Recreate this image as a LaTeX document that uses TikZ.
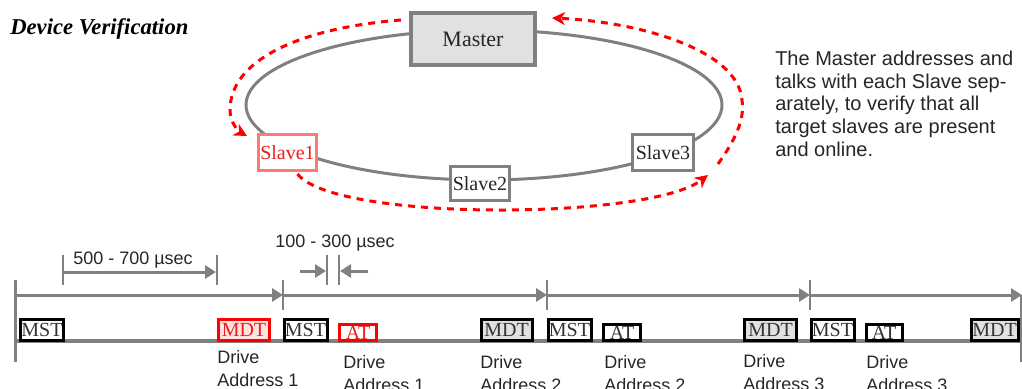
\documentclass[tikz,border=0pt]{standalone}
\usepackage{fontspec}
\setmainfont{Liberation Sans}
\newfontfamily\tnrfont{Liberation Serif}
\usetikzlibrary{arrows.meta,calc}

\definecolor{linegray}{RGB}{128,128,128}
\definecolor{boxgray}{RGB}{224,226,224}
\definecolor{pinkfill}{RGB}{255,226,226}
\definecolor{lightred}{RGB}{255,120,120}
\definecolor{textred}{RGB}{235,30,30}

\newdimen\pxu
\pxu=0.75pt

\begin{document}
\begin{tikzpicture}[x=0.75pt,y=-0.75pt,
  ring/.style={draw=linegray,line width=3\pxu},
  masterbox/.style={draw=linegray,line width=4\pxu,fill=boxgray,inner sep=0pt,
    font=\tnrfont\fontsize{16.5}{18}\selectfont,text=black!85},
  slavebox/.style={draw=linegray,line width=3\pxu,fill=white,inner sep=0pt,
    minimum height=36\pxu,font=\tnrfont\fontsize{15}{17}\selectfont,text=black!85},
  redarc/.style={draw=red,line width=3\pxu,dash pattern=on 7\pxu off 6\pxu,
    -{Stealth[length=9.75pt,width=9.75pt,inset=3pt]}},
  tlarrow/.style={draw=linegray,line width=3\pxu,-{Triangle[length=8.25pt,width=9.75pt]}},
  tlline/.style={draw=linegray,line width=3\pxu},
  baseline/.style={draw=linegray,line width=4\pxu},
  tick/.style={draw=linegray,line width=2\pxu},
  dimtick/.style={draw=linegray,line width=2.5\pxu},
  tlbox/.style={draw=black,line width=3\pxu,fill=white,inner sep=0pt,
    minimum height=21\pxu,font=\tnrfont\fontsize{15}{16}\selectfont,text=black!80},
  redbox/.style={draw=red,text=textred},
  graybox/.style={fill=boxgray},
  shortbox/.style={minimum height=16\pxu},
  timelabel/.style={anchor=base west,inner sep=0pt,font=\fontsize{13.5}{17.25}\selectfont,text=black!85},
  addrlabel/.style={anchor=north west,inner sep=0pt,align=left,
    font=\fontsize{13.5}{17.25}\selectfont,text=black!85}
]
\useasboundingbox (0,0) rectangle (1022,389);
\clip (0,0) rectangle (1022,389);

% heading
\node[anchor=base west,inner sep=0pt,font=\tnrfont\bfseries\itshape\fontsize{17}{19}\selectfont]
  (title) at (10,35) {Device Verification};

% ring network
\draw[ring] (484,105) ellipse [x radius=178.5pt, y radius=56.25pt];
\node[masterbox,minimum width=124\pxu,minimum height=52\pxu] (master) at (473,39) {Master};
\node[slavebox,minimum width=58\pxu,draw=lightred,text=textred] (slave1) at (287.5,152.5) {Slave1};
\node[slavebox,minimum width=59\pxu,minimum height=34\pxu] (slave2) at (480,183.5) {Slave2};
\node[slavebox,minimum width=61\pxu] (slave3) at (663,152.5) {Slave3};

% polling sequence around the ring
\draw[redarc] ($(master.north west)+(-8,9)$) .. controls (300,28) and (230,60) .. (230,110)
  .. controls (230,122) and (238,131) .. ($(slave1.north west)+(-10,3)$);
\draw[redarc] ($(slave1.south)+(10,2)$) .. controls (335,222) and (650,220) .. ($(slave3.south east)+(13,3)$);
\draw[redarc] ($(slave3.south east)+(23,-8)$) .. controls (735,140) and (745,120) .. (742,100)
  .. controls (738,50) and (640,22) .. ($(master.north east)+(15,7)$);

% description
\node[anchor=north west,inner sep=0pt,align=left,font=\fontsize{15}{17}\selectfont,text=black!85]
  (desc) at (775,50.7) {The Master addresses and\\talks with each Slave sep-\\arately, to verify that all\\target slaves are present\\and online.};

% timeline axes
\coordinate (t0) at (15,295);
\coordinate (t1) at (283,295);
\coordinate (t2) at (547,295);
\coordinate (t3) at (810,295);
\coordinate (t4) at (1022,295);
\coordinate (b0) at (15,341);
\coordinate (b1) at (1022,341);
\coordinate (lv0) at (15,280);
\coordinate (lv1) at (15,362);
\coordinate (rv0) at (1021,295);
\coordinate (rv1) at (1021,362);

\draw[tlline] (lv0) -- (lv1);
\draw[tick] (rv0) -- (rv1);
\draw[baseline] (b0) -- (b1);
\draw[tlarrow] (t0) -- (t1);
\draw[tlarrow] (t1) -- (t2);
\draw[tlarrow] (t2) -- (t3);
\draw[tlarrow] (t3) -- (t4);
\foreach \t in {t1,t2,t3}
  \draw[tick] ($(\t)+(0,-15)$) -- ($(\t)+(0,15)$);

% 500 - 700 usec interval
\coordinate (d1a) at (63,272);
\coordinate (d1b) at (216,272);
\draw[dimtick] (63,255) -- (63,285);
\draw[dimtick] (217,255) -- (217,285);
\draw[tlarrow] (d1a) -- (d1b);
\node[timelabel] (dim1) at (73,264) {500 - 700 µsec};

% 100 - 300 usec gap
\coordinate (d2a) at (300,271);
\coordinate (d2b) at (326,271);
\coordinate (d2c) at (368,271);
\coordinate (d2d) at (340,271);
\draw[dimtick] (327,255) -- (327,285);
\draw[dimtick] (339,255) -- (339,285);
\draw[tlarrow] (d2a) -- (d2b);
\draw[tlarrow] (d2c) -- (d2d);
\node[timelabel] (dim2) at (275,247) {100 - 300 µsec};

% telegrams
\node[tlbox,minimum width=43\pxu] (mst1) at (42,330) {MST};
\node[tlbox,redbox,fill=pinkfill,minimum width=51\pxu] (mdt1) at (244,330) {MDT};
\node[tlbox,minimum width=43\pxu] (mst2) at (305.5,330) {MST};
\node[tlbox,redbox,shortbox,minimum width=37\pxu] (at1) at (358,332.5) {AT};
\node[tlbox,graybox,minimum width=51\pxu] (mdt2) at (506.5,330) {MDT};
\node[tlbox,minimum width=43\pxu] (mst3) at (569.5,330) {MST};
\node[tlbox,shortbox,minimum width=37\pxu] (at2) at (622,332.5) {AT};
\node[tlbox,graybox,minimum width=52\pxu] (mdt3) at (770.5,330) {MDT};
\node[tlbox,minimum width=43\pxu] (mst4) at (832.5,330) {MST};
\node[tlbox,shortbox,minimum width=36\pxu] (at3) at (884,332.5) {AT};
\node[tlbox,graybox,minimum width=47\pxu] (mdt4) at (994.5,330) {MDT};

% addresses
\node[addrlabel] (lab1) at (217,350) {Drive\\Address 1};
\node[addrlabel] (lab2) at (343,355) {Drive\\Address 1};
\node[addrlabel] (lab3) at (480,355) {Drive\\Address 2};
\node[addrlabel] (lab4) at (604,355) {Drive\\Address 2};
\node[addrlabel] (lab5) at (743,354) {Drive\\Address 3};
\node[addrlabel] (lab6) at (866,355) {Drive\\Address 3};
\end{tikzpicture}
\end{document}
